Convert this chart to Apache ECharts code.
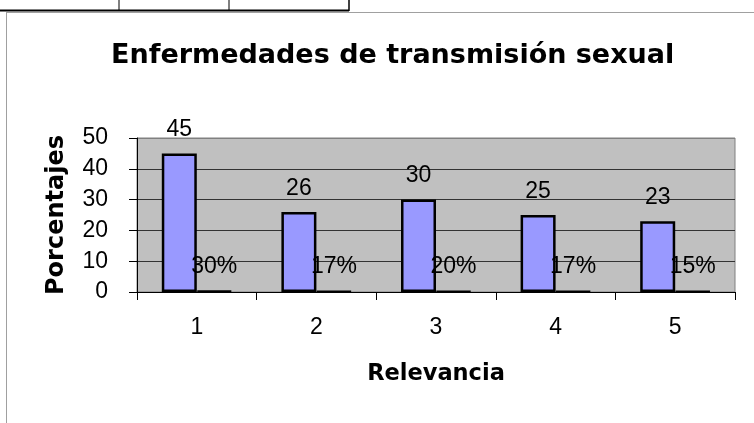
<!DOCTYPE html>
<html>
<head>
<meta charset="utf-8">
<script src="https://cdn.jsdelivr.net/npm/echarts@6/dist/echarts.min.js"></script>
<style>
  html, body { margin: 0; padding: 0; background: #fff; }
  #main { width: 754px; height: 423px; }
</style>
</head>
<body>
<div id="main"></div>
<script>
// datos
var categories = ['1', '2', '3', '4', '5'];
var counts = [45, 26, 30, 25, 23];
var shares = [0.30, 0.17, 0.20, 0.17, 0.15];
var yTicks = [0, 10, 20, 30, 40, 50];

var chart = echarts.init(document.getElementById('main'));

var numFont = '"Liberation Sans", Arial, sans-serif';
var boldFont = '"DejaVu Sans", sans-serif';

var option = {
  animation: false,
  backgroundColor: '#fff',
  title: {
    text: 'Enfermedades de transmisión sexual',
    left: 106,
    top: 37,
    textStyle: { fontFamily: boldFont, fontWeight: 'bold', fontSize: 27, color: '#000' }
  },
  grid: {
    left: 137, right: 19, top: 138, bottom: 131,
    show: true,
    backgroundColor: '#c0c0c0',
    borderColor: '#808080',
    borderWidth: 1
  },
  xAxis: {
    type: 'category',
    data: categories,
    name: 'Relevancia',
    nameLocation: 'middle',
    nameGap: 71,
    nameTextStyle: { fontFamily: boldFont, fontWeight: 'bold', fontSize: 22.5, color: '#000' },
    axisLine: { lineStyle: { color: '#000', width: 1 } },
    axisTick: { show: true, length: 8, lineStyle: { color: '#000' } },
    axisLabel: { margin: 24, fontFamily: numFont, fontSize: 23, color: '#000' }
  },
  yAxis: {
    type: 'value',
    min: yTicks[0],
    max: yTicks[yTicks.length - 1],
    interval: 10,
    name: 'Porcentajes',
    nameLocation: 'middle',
    nameGap: 68,
    nameTextStyle: { fontFamily: boldFont, fontWeight: 'bold', fontSize: 24, color: '#000' },
    axisLine: { show: true, lineStyle: { color: '#000', width: 1 } },
    axisTick: { show: true, length: 8, lineStyle: { color: '#000' } },
    axisLabel: { margin: 29, fontFamily: numFont, fontSize: 23, color: '#000' },
    splitLine: { lineStyle: { color: ['#000', '#333', '#333', '#333', '#333', '#808080'], width: 1 } }
  },
  series: [
    {
      name: 'Cantidad',
      type: 'bar',
      data: counts,
      barWidth: 35,
      barGap: '0%',
      itemStyle: { color: '#9999ff', borderColor: '#000', borderWidth: 2.5 },
      label: {
        show: true, position: 'top', distance: 12,
        fontFamily: numFont, fontSize: 23, color: '#000'
      }
    },
    {
      name: 'Porcentaje',
      type: 'bar',
      data: shares,
      barWidth: 35,
      barGap: '0%',
      itemStyle: { color: '#000', borderColor: '#000', borderWidth: 2.5 },
      label: {
        show: true, position: 'top', distance: 12,
        fontFamily: numFont, fontSize: 23, color: '#000',
        formatter: function (p) { return Math.round(p.value * 100) + '%'; }
      }
    }
  ],
  graphic: [
    // bordes de la tabla y del marco
    { type: 'line', shape: { x1: 0, y1: 10.5, x2: 349, y2: 10.5 }, style: { stroke: '#000', lineWidth: 2 } },
    { type: 'line', shape: { x1: 119, y1: 0, x2: 119, y2: 11 }, style: { stroke: '#000', lineWidth: 1 } },
    { type: 'line', shape: { x1: 229, y1: 0, x2: 229, y2: 11 }, style: { stroke: '#000', lineWidth: 1 } },
    { type: 'line', shape: { x1: 349, y1: 0, x2: 349, y2: 11 }, style: { stroke: '#000', lineWidth: 1.5 } },
    { type: 'line', shape: { x1: 6, y1: 12.5, x2: 754, y2: 12.5 }, style: { stroke: '#a0a0a0', lineWidth: 1 } },
    { type: 'line', shape: { x1: 6.5, y1: 12, x2: 6.5, y2: 423 }, style: { stroke: '#a0a0a0', lineWidth: 1 } }
  ]
};

chart.setOption(option);
</script>
</body>
</html>
